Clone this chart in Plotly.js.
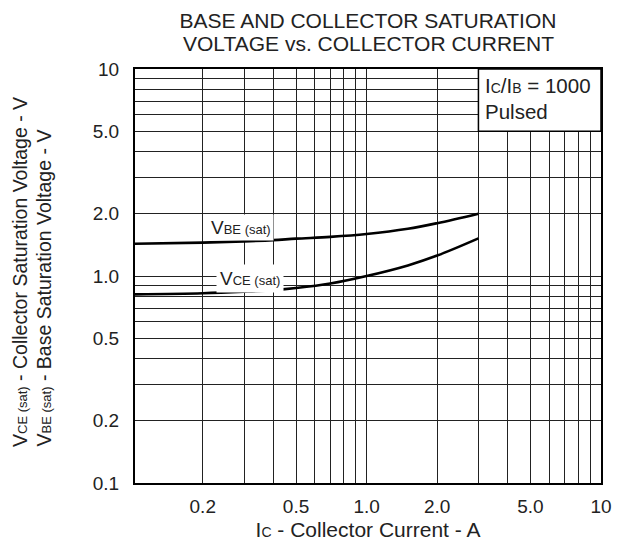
<!DOCTYPE html>
<html>
<head>
<meta charset="utf-8">
<script src="https://cdn.plot.ly/plotly-3.0.1.min.js"></script>
<style>html,body{margin:0;padding:0;background:#fff;}#chart{width:625px;height:551px;}</style>
</head>
<body>
<div id="chart"></div>
<script>
// Data
var collectorCurrent = [0.1, 0.2, 0.3, 0.4, 0.5, 0.7, 1.0, 1.5, 2.0, 3.0];
var vbeSat = [1.43, 1.45, 1.47, 1.49, 1.515, 1.545, 1.595, 1.69, 1.80, 2.0];
var vceSat = [0.815, 0.825, 0.84, 0.855, 0.875, 0.92, 1.0, 1.125, 1.255, 1.52];

var xGridVals = [0.2, 0.3, 0.4, 0.5, 0.6, 0.7, 0.8, 0.9, 1, 2, 3, 4, 5, 6, 7, 8, 9, 10];
var xTickText = ['0.2', '', '', '0.5', '', '', '', '', '1.0', '2.0', '', '', '5.0', '', '', '', '', '10'];
var yGridVals = [0.1, 0.2, 0.3, 0.4, 0.5, 0.6, 0.7, 0.8, 0.9, 1, 2, 3, 4, 5, 6, 7, 8, 9, 10];
var yTickText = ['0.1', '0.2', '', '', '0.5', '', '', '', '', '1.0', '2.0', '', '', '5.0', '', '', '', '', '10'];

var titleLines = ['BASE AND COLLECTOR SATURATION', 'VOLTAGE vs. COLLECTOR CURRENT'];
var conditionText = ['I<span style="font-size:14px">C</span>/I<span style="font-size:14px">B</span> = 1000', 'Pulsed'];
var conditionBox = {x0: 3, x1: 10, y0: 5, y1: 10};

var FONT = 'Liberation Sans, Arial, sans-serif';
var TXT = '#222';

var traces = [
  {x: collectorCurrent, y: vbeSat, mode: 'lines', name: 'VBE(sat)', line: {color: '#000', width: 2.6, shape: 'spline', smoothing: 1}},
  {x: collectorCurrent, y: vceSat, mode: 'lines', name: 'VCE(sat)', line: {color: '#000', width: 2.6, shape: 'spline', smoothing: 1}}
];

var layout = {
  width: 625, height: 551,
  margin: {l: 135, r: 24, t: 69, b: 68},
  paper_bgcolor: '#fff', plot_bgcolor: '#fff',
  showlegend: false,
  font: {family: FONT, color: TXT, size: 18},
  title: {text: titleLines[0], x: 0.5, xref: 'paper', y: 1 - 21 / 551, yref: 'container', yanchor: 'middle', font: {size: 21, family: FONT, color: TXT}},
  xaxis: {
    type: 'log', range: [-0.988, 1],
    tickmode: 'array', tickvals: xGridVals, ticktext: xTickText,
    ticks: '', showgrid: true, gridcolor: '#222', gridwidth: 1,
    showline: true, mirror: true, linecolor: '#000', linewidth: 2,
    tickfont: {size: 19, family: FONT, color: TXT}, ticklabelstandoff: 5,
    zeroline: false, fixedrange: true,
    title: {text: 'I<span style="font-size:14px">C</span> - Collector Current - A', font: {size: 21, family: FONT, color: TXT}, standoff: 7}
  },
  yaxis: {
    type: 'log', range: [-1, 1],
    tickmode: 'array', tickvals: yGridVals, ticktext: yTickText,
    ticks: '', showgrid: true, gridcolor: '#222', gridwidth: 1,
    showline: true, mirror: true, linecolor: '#000', linewidth: 2,
    tickfont: {size: 19, family: FONT, color: TXT}, ticklabelstandoff: 10,
    zeroline: false, fixedrange: true
  },
  shapes: [
    {type: 'rect', xref: 'x', yref: 'y', x0: conditionBox.x0, x1: conditionBox.x1, y0: conditionBox.y0, y1: conditionBox.y1,
     fillcolor: '#fff', line: {color: '#000', width: 1.5}, layer: 'above'}
  ],
  annotations: [
    {text: titleLines[1], xref: 'paper', yref: 'paper', x: 0.5, y: 1, yanchor: 'middle', yshift: 25.5, showarrow: false,
     font: {size: 21, family: FONT, color: TXT}},
    {text: conditionText[0], xref: 'x', yref: 'y', x: Math.log10(conditionBox.x0), y: Math.log10(conditionBox.y1), xanchor: 'left', yanchor: 'middle',
     xshift: 5, yshift: -16, showarrow: false, font: {size: 20.5, family: FONT, color: TXT}},
    {text: conditionText[1], xref: 'x', yref: 'y', x: Math.log10(conditionBox.x0), y: Math.log10(conditionBox.y1), xanchor: 'left', yanchor: 'middle',
     xshift: 5, yshift: -42, showarrow: false, font: {size: 20.5, family: FONT, color: TXT}},
    {text: 'V<span style="font-size:13px">BE (sat)</span>', xref: 'x', yref: 'y', x: Math.log10(0.292), y: Math.log10(1.72), showarrow: false,
     bgcolor: '#fff', borderpad: 2, font: {size: 19, family: FONT, color: TXT}},
    {text: 'V<span style="font-size:13px">CE (sat)</span>', xref: 'x', yref: 'y', x: Math.log10(0.318), y: Math.log10(0.978), showarrow: false,
     bgcolor: '#fff', borderpad: 3, font: {size: 19, family: FONT, color: TXT}},
    {text: 'V<span style="font-size:13px">CE (sat)</span> - Collector Saturation Voltage - V', xref: 'paper', yref: 'paper', x: 0, y: 0,
     xanchor: 'center', yanchor: 'bottom', xshift: -115, yshift: 34, textangle: -90, showarrow: false, font: {size: 19.5, family: FONT, color: TXT}},
    {text: 'V<span style="font-size:13px">BE (sat)</span> - Base Saturation Voltage - V', xref: 'paper', yref: 'paper', x: 0, y: 0,
     xanchor: 'center', yanchor: 'bottom', xshift: -92, yshift: 34, textangle: -90, showarrow: false, font: {size: 19.5, family: FONT, color: TXT}}
  ]
};

Plotly.newPlot('chart', traces, layout, {displayModeBar: false, staticPlot: true});
</script>
</body>
</html>
